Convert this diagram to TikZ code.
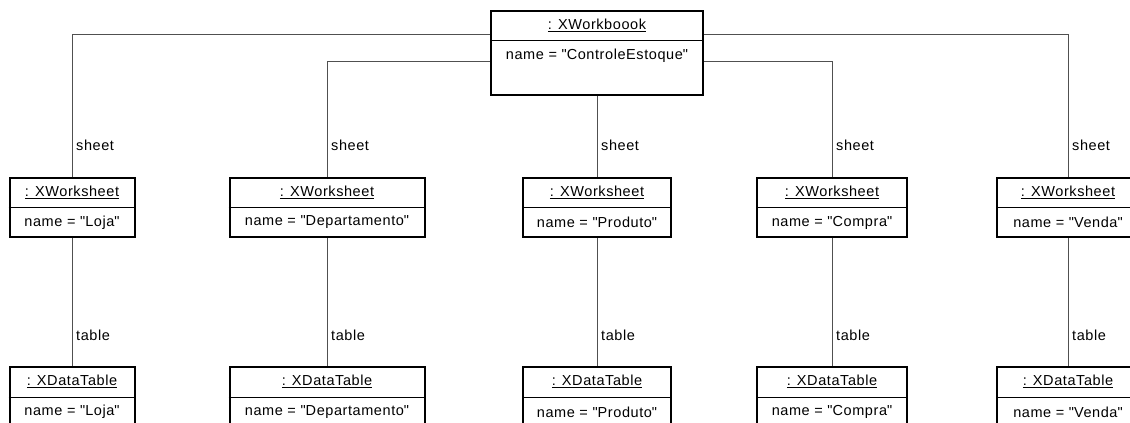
\documentclass[tikz,border=0pt]{standalone}
\usepackage{fontspec}
\setmainfont{Liberation Sans}[LetterSpace=4]
\usetikzlibrary{calc}
\definecolor{linkgray}{RGB}{80,80,80}
% straight double quote around attribute values
\newcommand\valq[1]{\textquotedbl{}#1\textquotedbl{}}
\begin{document}
\begin{tikzpicture}[x=1pt,y=-1pt,
  objbox/.style={draw=black, line width=2pt, fill=white, inner sep=0pt},
  divider/.style={draw=black, line width=1pt},
  txt/.style={inner sep=0pt, font=\fontsize{14.5pt}{16pt}\selectfont, text=black},
  lbl/.style={inner sep=0pt, anchor=west, font=\fontsize{14.5pt}{16pt}\selectfont, text=black},
  conn/.style={draw=linkgray, line width=1pt}]
\useasboundingbox (0,0) rectangle (1130,423);

% workbook object
\node[objbox, minimum width=212pt, minimum height=84pt] (wb) at (597,53) {};
\draw[divider] ($(wb.north west)+(0,30)$) -- ($(wb.north east)+(0,30)$);
\node[txt] (wbt) at ($(wb.north)+(0,15.5)$) {\underline{: XWorkboook}};
\node[txt] (wbv) at ($(wb.north)+(0,46)$) {name = \valq{ControleEstoque}};

% worksheet and data table objects, one column per sheet
\foreach \cx/\w/\nm/\i in {72/125/Loja/1, 327/195/Departamento/2, 597/148/Produto/3, 832/150/Compra/4, 1068/142/Venda/5} {
  \node[objbox, minimum width=\w pt, minimum height=59pt] (ws\i) at (\cx,207.5) {};
  \draw[divider] ($(ws\i.north west)+(0,30.5)$) -- ($(ws\i.north east)+(0,30.5)$);
  \node[txt] (wst\i) at ($(ws\i.north)+(0,15.5)$) {\underline{: XWorksheet}};
  \node[txt] (wsv\i) at ($(ws\i.north)+(0,45.5)$) {name = \valq{\nm}};

  \node[objbox, minimum width=\w pt, minimum height=59pt] (dt\i) at (\cx,396.5) {};
  \draw[divider] ($(dt\i.north west)+(0,31)$) -- ($(dt\i.north east)+(0,31)$);
  \node[txt] (dtt\i) at ($(dt\i.north)+(0,15.5)$) {\underline{: XDataTable}};
  \node[txt] (dtv\i) at ($(dt\i.north)+(0,46)$) {name = \valq{\nm}};

  \draw[conn] (ws\i.south) -- (dt\i.north);
  \node[lbl] (tl\i) at ($(dt\i.north)+(4,-31)$) {table};
  \node[lbl] (sl\i) at ($(ws\i.north)+(4,-32)$) {sheet};
}

% links from the workbook to its sheets
\draw[conn] ($(wb.north west)+(0,24)$) -| (ws1.north);
\draw[conn] ($(wb.north west)+(0,51)$) -| (ws2.north);
\draw[conn] (wb.south) -- (ws3.north);
\draw[conn] ($(wb.north east)+(0,51)$) -| (ws4.north);
\draw[conn] ($(wb.north east)+(0,24)$) -| (ws5.north);
\end{tikzpicture}
\end{document}
